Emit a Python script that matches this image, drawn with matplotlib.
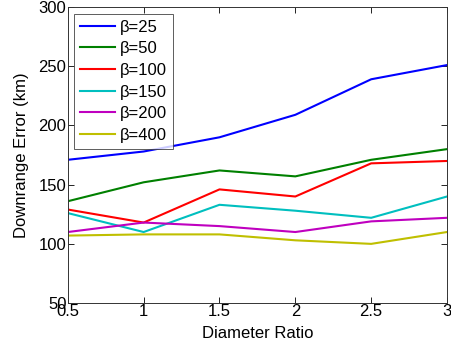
import matplotlib
matplotlib.use("Agg")
import matplotlib.pyplot as plt

plt.rcParams["font.family"] = ["Liberation Sans", "DejaVu Sans"]

ratio = [0.5, 1, 1.5, 2, 2.5, 3]
beta_labels = ["\u03b2=25", "\u03b2=50", "\u03b2=100", "\u03b2=150", "\u03b2=200", "\u03b2=400"]
err_b25 = [171, 178, 190, 209, 239, 251]
err_b50 = [136, 152, 162, 157, 171, 180]
err_b100 = [129, 118, 146, 140, 168, 170]
err_b150 = [126, 110, 133, 128, 122, 140]
err_b200 = [110, 118, 115, 110, 119, 122]
err_b400 = [107, 108, 108, 103, 100, 110]

series = [err_b25, err_b50, err_b100, err_b150, err_b200, err_b400]
# matlab default color order
colors = [(0, 0, 1), (0, 0.5, 0), (1, 0, 0), (0, 0.75, 0.75), (0.75, 0, 0.75), (0.75, 0.75, 0)]

fig = plt.figure(figsize=(4.52, 3.52), dpi=100)
ax = fig.add_axes([0.150, 0.139, 0.839, 0.841])

for vals, lab, c in zip(series, beta_labels, colors):
    ax.plot(ratio, vals, color=c, lw=1.5, label=lab)

ax.set_xlim(0.5, 3)
ax.set_ylim(50, 300)
ax.set_xticks([0.5, 1, 1.5, 2, 2.5, 3])
ax.set_xticklabels(["0.5", "1", "1.5", "2", "2.5", "3"])
ax.set_yticks([50, 100, 150, 200, 250, 300])
ax.tick_params(direction="in", top=True, right=True, labelsize=12, length=4, width=0.6, pad=1)
for s in ax.spines.values():
    s.set_linewidth(0.7)
    s.set_color("#333333")

ax.set_xlabel("Diameter Ratio", fontsize=12, labelpad=5)
ax.set_ylabel("Downrange Error (km)", fontsize=12, labelpad=7)

leg = ax.legend(loc="upper left", fontsize=12, frameon=True, fancybox=False,
                edgecolor="#333333", handlelength=2.1, handletextpad=0.3,
                borderaxespad=0.4, labelspacing=0.4, borderpad=0.35)
leg.get_frame().set_linewidth(0.7)

fig.savefig("out.png", dpi=100)
